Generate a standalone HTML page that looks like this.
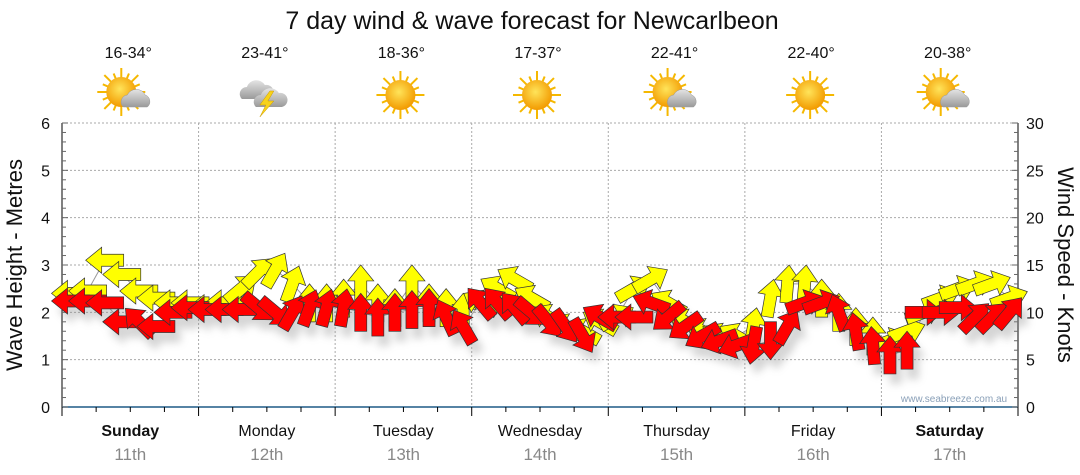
<!DOCTYPE html>
<html><head><meta charset="utf-8">
<style>
body{margin:0;background:#fff;}
svg{display:block;font-family:"Liberation Sans",sans-serif;}
</style></head>
<body>
<svg id="chart" width="1080" height="475" viewBox="0 0 1080 475" xmlns="http://www.w3.org/2000/svg">
<defs>
<filter id="sh" x="-50%" y="-50%" width="200%" height="200%"><feGaussianBlur stdDeviation="4"/></filter>
<radialGradient id="sun" cx="0.45" cy="0.4" r="0.6"><stop offset="0" stop-color="#ffe45a"/><stop offset="1" stop-color="#f29a00"/></radialGradient>
<linearGradient id="cl" x1="0" y1="0" x2="0" y2="1"><stop offset="0" stop-color="#e4e4e4"/><stop offset="1" stop-color="#9a9a9a"/></linearGradient>
</defs>
<text x="532" y="29" font-size="25" text-anchor="middle" fill="#111">7 day wind &amp; wave forecast for Newcarlbeon</text>
<g id="grid"></g>
<g id="icons"></g>
<g id="axes"></g>
<g id="shadows" filter="url(#sh)" opacity="0.35"></g>
<g id="lines"></g>
<g id="waves"></g>
<g id="winds"></g>
<text x="954" y="402" font-size="10" fill="#8aa0b8" text-anchor="middle">www.seabreeze.com.au</text>
<text transform="translate(22,265) rotate(-90)" font-size="22" text-anchor="middle" fill="#111">Wave Height - Metres</text>
<text transform="translate(1058,265) rotate(90)" font-size="22" text-anchor="middle" fill="#111">Wind Speed - Knots</text>
</svg>
<script>
const days=["Sunday","Monday","Tuesday","Wednesday","Thursday","Friday","Saturday"];
const dates=["11th","12th","13th","14th","15th","16th","17th"];
const temps=["16-34°","23-41°","18-36°","17-37°","22-41°","22-40°","20-38°"];
const icons=["partly","storm","sun","sun","partly","sun","partly"];
const leftTicks=[0,1,2,3,4,5,6];
const rightTicks=[0,5,10,15,20,25,30];
const windKnots=[11.2,11.2,11,9,9,8.5,10,10.5, 10.3,10.3,10.3,10.5,10,10,10.5,10.5, 10.5,10,9.5,10,10.3,10.5,9.5,8.5, 11,11,10.5,10,9,8.5,7.5,9.5, 9.5,9.5,11,9.5,8.5,7.5,7,6.5, 6.5,7,8.5,11,11,10,8,6.5, 5.5,6,10,10,10.5,9.5,9.5,10];
const windDir=[180,180,180,180,135,180,180,180, 180,180,180,-40,-40,60,70,75, 80,90,90,90,90,90,115,120, 130,130,130,-40,-50,-55,-60,150, 180,180,160,220,215,210,200,200, 260,270,60,20,20,110,100,95, 90,90,0,0,0,45,45,50];
const waveM=[2.4,2.45,3.1,2.8,2.45,2.3,2.2,2.2, 2.1,2.2,2.5,2.85,2.9,2.6,2.2,2.2, 2.3,2.6,2.2,2.1,2.6,2.2,2.1,2.0, 2.2,2.5,2.7,2.3,1.9,1.7,1.6,1.8, 1.9,2.5,2.7,2.2,1.8,1.6,1.5,1.5, 1.7,2.3,2.6,2.6,2.3,2.0,1.7,1.5, 1.4,1.6,2.0,2.3,2.5,2.6,2.6,2.3];
const waveDir=[180,180,180,180,180,180,180,180, 180,180,40,45,60,70,90,90, 90,90,90,90,90,90,90,90, 150,150,150,150,150,150,150,150, 30,30,30,150,150,150,150,150, 80,80,85,85,90,90,90,90, 20,20,20,20,20,20,20,20];
const NS="http://www.w3.org/2000/svg";
const X0=62,X1=1018,Y0=407,Y1=123;
const xS=t=>X0+t*(X1-X0)/7;
const yM=m=>Y0-m*(Y0-Y1)/6;
const yK=k=>Y0-k*(Y0-Y1)/30;
function mk(tag,attrs,parent){const e=document.createElementNS(NS,tag);for(const k in attrs)e.setAttribute(k,attrs[k]);parent.appendChild(e);return e;}
const G=id=>document.getElementById(id);
leftTicks.forEach(v=>{if(v>0){const l=mk('line',{x1:X0,x2:X1,y1:yM(v),y2:yM(v),stroke:'#aaa','stroke-dasharray':'2,2'},G('grid'));

}});
for(let d=1;d<7;d++){const l=mk('line',{x1:xS(d),x2:xS(d),y1:Y1,y2:Y0,stroke:'#aaa','stroke-dasharray':'2,2'},G('grid'));

}
const ax=G('axes');
mk('line',{x1:X0,x2:X0,y1:Y1,y2:Y0+9,stroke:'#000'},ax);
mk('line',{x1:X1,x2:X1,y1:Y1,y2:Y0,stroke:'#000'},ax);
mk('line',{x1:X0,x2:X1,y1:Y0,y2:Y0,stroke:'#1f5a85','stroke-width':1.5},ax);
for(let m=0;m<=30;m++){const y=Y0-m*(Y0-Y1)/30;mk('line',{x1:X0,x2:X0+(m%5==0?6:4),y1:y,y2:y,stroke:'#666'},ax);}
for(let k=0;k<=30;k++){mk('line',{x1:X1,x2:X1-(k%5==0?6:4),y1:yK(k),y2:yK(k),stroke:'#666'},ax);}
leftTicks.forEach(v=>{const t=mk('text',{x:50,y:yM(v)+6,'font-size':16,'text-anchor':'end',fill:'#111'},ax);t.textContent=v;

});
rightTicks.forEach(v=>{const t=mk('text',{x:1026,y:yK(v)+6,'font-size':16,fill:'#111'},ax);t.textContent=v;

});
for(let q=0;q<=28;q++){mk('line',{x1:xS(q/4),x2:xS(q/4),y1:Y0,y2:Y0+(q%4==0?9:5),stroke:'#000'},ax);}
days.forEach((d,i)=>{const cx=xS(i+0.5);
const t=mk('text',{x:cx,y:436,'font-size':16,'text-anchor':'middle',fill:'#111','font-weight':(i==0||i==6)?'bold':'normal'},ax);t.textContent=d;


const t2=mk('text',{x:cx,y:460,'font-size':17,'text-anchor':'middle',fill:'#888'},ax);t2.textContent=dates[i];


const t3=mk('text',{x:cx-2,y:58,'font-size':16,'text-anchor':'middle',fill:'#111'},G('icons'));t3.textContent=temps[i];


const g=mk('g',{transform:`translate(${cx-3},95)`},G('icons'));


const ic=icons[i];
if(ic!='storm'){const sx=ic=='sun'?0:-6, sy=ic=='sun'?0:-3;
 for(let r=0;r<16;r++){const a=r*Math.PI/8;mk('line',{x1:sx+Math.cos(a)*14,y1:sy+Math.sin(a)*14,x2:sx+Math.cos(a)*(r%2?20:24),y2:sy+Math.sin(a)*(r%2?20:24),stroke:'#f5b800','stroke-width':2},g);}
 mk('circle',{cx:sx,cy:sy,r:15,fill:'url(#sun)'},g);}
if(ic=='partly'){mk('path',{d:'M-4,12 a7,7 0 0 1 4,-12 a10,10 0 0 1 18,0 a7,7 0 0 1 2,12 z',fill:'url(#cl)',stroke:'#999','stroke-width':0.5},g);}
if(ic=='storm'){mk('path',{d:'M-22,4 a7,7 0 0 1 5,-12 a10,10 0 0 1 18,-2 a7,7 0 0 1 3,14 z',fill:'url(#cl)'},g);
 mk('path',{d:'M-8,12 a7,7 0 0 1 5,-12 a10,10 0 0 1 18,-2 a7,7 0 0 1 3,14 z',fill:'url(#cl)'},g);
 mk('path',{d:'M6,-4 L-4,10 L2,10 L-4,22 L10,6 L4,6 L10,-4 z',fill:'#f7d21a',stroke:'#c90','stroke-width':0.5},g);}
});
function arrow(parent,x,y,deg,fill){
 const g=mk('g',{transform:`translate(${x},${y}) rotate(${-deg})`},parent);
 mk('path',{d:'M19,0 L3,-13 L3,-6 L-19,-6 L-19,6 L3,6 L3,13 Z',fill:fill,stroke:fill=='#888'?'none':'#333','stroke-width':0.7},g);
 return g;}
const dx=(X1-X0)/56;
let lw='',lv='';
waveM.forEach((v,i)=>{const x=X0+(i+0.5)*dx;lv+=(i?'L':'M')+x+','+yM(v);});
windKnots.forEach((v,i)=>{const x=X0+(i+0.5)*dx;lw+=(i?'L':'M')+x+','+yK(v);});
mk('path',{d:lv,fill:'none',stroke:'#999','stroke-width':1},G('lines'));
mk('path',{d:lw,fill:'none',stroke:'#999','stroke-width':1},G('lines'));
windKnots.forEach((v,i)=>{const x=X0+(i+0.5)*dx;arrow(G('shadows'),x+6,yK(v)+10,windDir[i],'#888');});
waveM.forEach((v,i)=>{const x=X0+(i+0.5)*dx;
 const a=arrow(G('waves'),x,yM(v),waveDir[i],'#ffff00');
 
 });
windKnots.forEach((v,i)=>{const x=X0+(i+0.5)*dx;
 const a=arrow(G('winds'),x,yK(v),windDir[i],'#ff0000');
 
 });
</script>
</body></html>
